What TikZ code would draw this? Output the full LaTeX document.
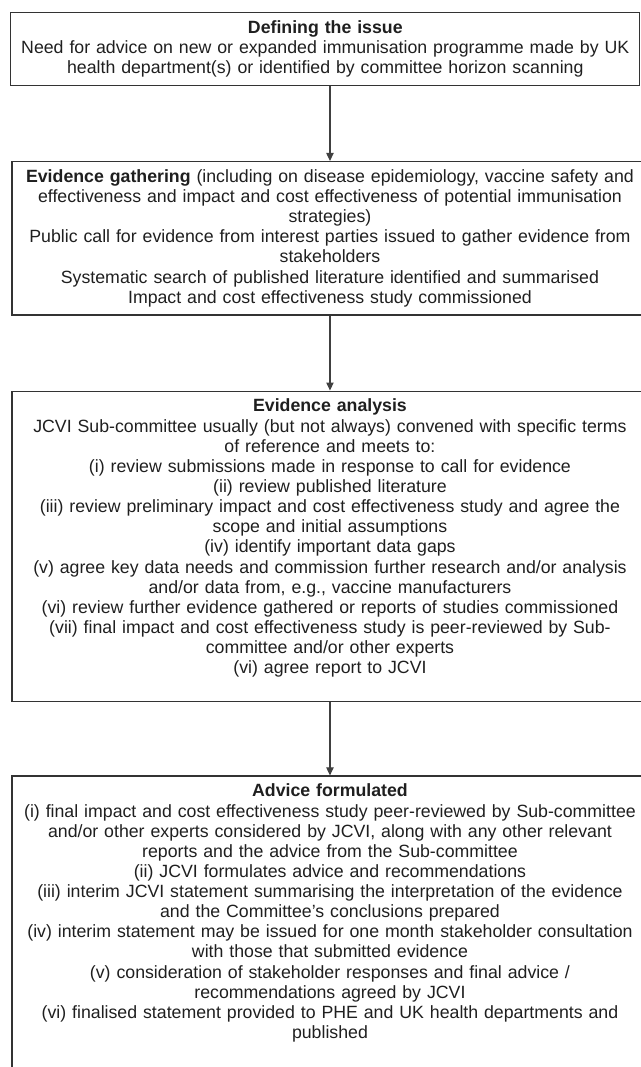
\documentclass[tikz,border=0pt]{standalone}
\usepackage{fontspec}
\setmainfont{Liberation Sans}
\usetikzlibrary{positioning, arrows.meta}

\begin{document}
\begin{tikzpicture}[-{Triangle[length=6pt,width=5.5pt]},x=0.75pt,y=-0.75pt,node distance=56pt,line width=0.8pt]

			\tikzstyle{every node}=[font=\fontsize{13.3pt}{15.1pt}\selectfont,text=black!88]

			\tikzstyle{stage}=[rectangle,draw=black!80,line width=0.9pt,align=center,inner xsep=3pt,inner ysep=6pt,text width=471pt]
			\tikzstyle{first stage}=[stage,text width=465.75pt]
			\tikzstyle{flow}=[draw=black!75]

			\useasboundingbox (0,0) rectangle (641,1067);
			\clip (0,0) rectangle (641,1067);

			\node[first stage,anchor=north] (issue) at (325.3,12) {\textbf{Defining the issue}\\
				Need for advice on new or expanded immunisation programme made by UK\\
				health department(s) or identified by committee horizon scanning};
			\node[stage] (gather) [below=56.25pt of issue,xshift=3.5pt] {\textbf{Evidence gathering} (including on disease epidemiology, vaccine safety and\\
				effectiveness and impact and cost effectiveness of potential immunisation\\
				strategies)\\
				Public call for evidence from interest parties issued to gather evidence from\\
				stakeholders\\
				Systematic search of published literature identified and summarised\\
				Impact and cost effectiveness study commissioned};
			\node[stage] (analysis) [below=56.25pt of gather] {\textbf{Evidence analysis}\\
				JCVI Sub-committee usually (but not always) convened with specific terms\\
				of reference and meets to:\\
				(i) review submissions made in response to call for evidence\\
				(ii) review published literature\\
				(iii) review preliminary impact and cost effectiveness study and agree the\\
				scope and initial assumptions\\
				(iv) identify important data gaps\\
				(v) agree key data needs and commission further research and/or analysis\\
				and/or data from, e.g., vaccine manufacturers\\
				(vi) review further evidence gathered or reports of studies commissioned\\
				(vii) final impact and cost effectiveness study is peer-reviewed by Sub-\\
				committee and/or other experts\\
				(vi) agree report to JCVI\\
				\mbox{}};
			% runs off the page at the bottom and right
			\node[stage] (advice) [below=54.75pt of analysis] {\textbf{Advice formulated}\\
				(i) final impact and cost effectiveness study peer-reviewed by Sub-committee\\
				and/or other experts considered by JCVI, along with any other relevant\\
				reports and the advice from the Sub-committee\\
				(ii) JCVI formulates advice and recommendations\\
				(iii) interim JCVI statement summarising the interpretation of the evidence\\
				and the Committee’s conclusions prepared\\
				(iv) interim statement may be issued for one month stakeholder consultation\\
				with those that submitted evidence\\
				(v) consideration of stakeholder responses and final advice /\\
				recommendations agreed by JCVI\\
				(vi) finalised statement provided to PHE and UK health departments and\\
				published\\
				\mbox{}\\
				\mbox{}};

			\coordinate (issue bottom) at (issue.south -| gather.north);

			\draw[flow] (issue bottom) -- (gather.north);
			\path (gather) edge[flow] (analysis)
			(analysis) edge[flow] (advice);

		\end{tikzpicture}
\end{document}
